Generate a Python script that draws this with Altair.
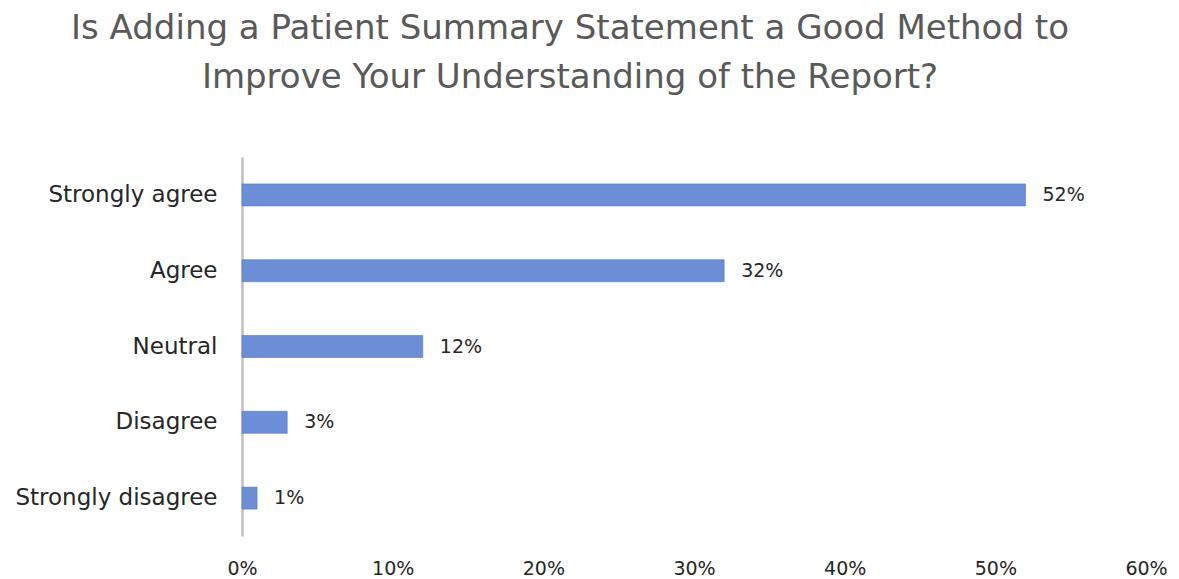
import altair as alt
import pandas as pd

categories = ["Strongly agree", "Agree", "Neutral", "Disagree", "Strongly disagree"]
values = [0.52, 0.32, 0.12, 0.03, 0.01]
labels = ["52%", "32%", "12%", "3%", "1%"]

df = pd.DataFrame({"cat": categories, "val": values, "lab": labels})

FONT = "DejaVu Sans"

y = alt.Y("cat:N", sort=categories, title=None,
          scale=alt.Scale(paddingInner=0.71, paddingOuter=0.355),
          axis=alt.Axis(domain=True, domainColor="#bfbfbf", domainWidth=2.5, ticks=False,
                        labelFontSize=23, labelColor="#262626", labelFont=FONT,
                        labelPadding=25, labelLimit=400, grid=False))
x = alt.X("val:Q", title=None,
          scale=alt.Scale(domain=[0, 0.6], nice=False),
          axis=alt.Axis(format=".0%", values=[0, 0.1, 0.2, 0.3, 0.4, 0.5, 0.6],
                        domain=False, ticks=False, grid=False, labelFlush=False,
                        labelFontSize=19, labelColor="#262626", labelFont=FONT,
                        labelPadding=23))

bars = alt.Chart(df).mark_bar(color="#6b8ed6", stroke="#4f79cc", strokeWidth=0.6).encode(x=x, y=y)
text = alt.Chart(df).mark_text(align="left", dx=17, fontSize=19, color="#262626", font=FONT).encode(
    x="val:Q", y=alt.Y("cat:N", sort=categories), text="lab:N")

chart = (bars + text).properties(
    width=904, height=379,
    autosize=alt.AutoSizeParams(type="none"),
    padding={"left": 234, "top": 149, "right": 25, "bottom": 43},
    title=alt.TitleParams(
        text=["Is Adding a Patient Summary Statement a Good Method to",
              "Improve Your Understanding of the Report?"],
        fontSize=34, font=FONT, fontWeight="normal", color="#595959",
        lineHeight=49, anchor="middle", dx=-124, offset=62),
).configure_view(stroke=None)

chart.save("out.html", embed_options={"renderer": "svg", "actions": False})
